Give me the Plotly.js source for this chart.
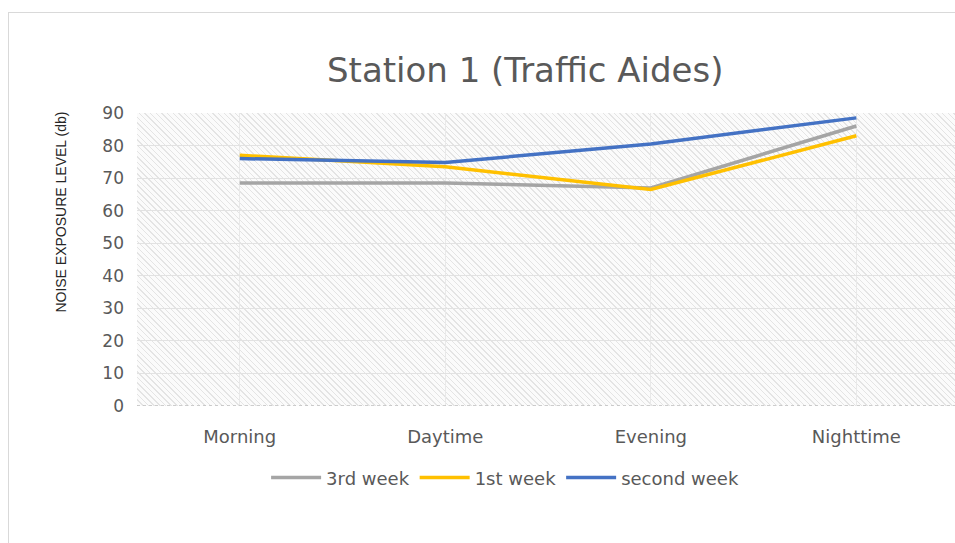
<!DOCTYPE html>
<html>
<head>
<meta charset="utf-8">
<script src="https://cdn.plot.ly/plotly-3.0.1.min.js"></script>
<style>
  html, body { margin: 0; padding: 0; background: #ffffff; }
  #wrap { position: relative; width: 955px; height: 543px; overflow: hidden; }
  #frame { position: absolute; left: 8px; top: 12px; width: 960px; height: 540px; border: 1px solid #d9d9d9; box-sizing: border-box; }
  #hatch { position: absolute; left: 137px; top: 113px; width: 818px; height: 293px;
    background: repeating-linear-gradient(45deg, #e4e4e4 0px, #e4e4e4 1px, #fbfbfb 1px, #fbfbfb 4px); }
  #chart { position: absolute; left: 0; top: 0; width: 955px; height: 543px; }
</style>
</head>
<body>
<div id="wrap">
  <div id="frame"></div>
  <div id="hatch"></div>
  <div id="chart"></div>
</div>
<script>
const categories = ["Morning", "Daytime", "Evening", "Nighttime"];
const week3 = [68.5, 68.5, 67, 86];
const week1 = [77, 73.5, 66.5, 83];
const week2 = [76, 74.8, 80.5, 88.5];
const seriesNames = ["3rd week", "1st week", "second week"];
const yTicks = [0, 10, 20, 30, 40, 50, 60, 70, 80, 90];

const colors = ["#a5a5a5", "#ffc000", "#4472c4"];
const values = [week3, week1, week2];

const traces = values.map((v, i) => ({
  type: "scatter",
  mode: "lines",
  x: categories,
  y: v,
  name: seriesNames[i],
  line: { color: colors[i], width: 3.5 }
}));

const FONT = "DejaVu Sans, sans-serif";

const layout = {
  width: 955,
  height: 543,
  margin: { l: 137, r: 0, t: 113, b: 137 },
  paper_bgcolor: "rgba(0,0,0,0)",
  plot_bgcolor: "rgba(0,0,0,0)",
  font: { family: FONT, color: "#595959" },
  title: {
    text: "Station 1 (Traffic Aides)",
    font: { family: FONT, size: 34, color: "#595959" },
    x: 0.55, xanchor: "center",
    y: 0.87, yanchor: "middle"
  },
  xaxis: {
    type: "category",
    range: [-0.5, 3.48],
    showgrid: true,
    gridcolor: "#e9e9e9",
    showline: false,
    zeroline: false,
    ticks: "",
    tickfont: { family: FONT, size: 18, color: "#595959" },
    ticklabelstandoff: 18
  },
  yaxis: {
    range: [0, 90],
    tickvals: yTicks,
    ticktext: yTicks.map(String),
    showgrid: true,
    gridcolor: "#e2e2e2",
    zeroline: false,
    showline: false,
    tickfont: { family: FONT, size: 17, color: "#595959" },
    ticklabelstandoff: 12
  },
  shapes: [{
    type: "line", xref: "paper", x0: 0, x1: 1, yref: "y", y0: 0, y1: 0,
    line: { color: "#bfbfbf", width: 1.5, dash: "dot" }
  }],
  annotations: [{
    text: "NOISE EXPOSURE LEVEL (db)",
    xref: "paper", yref: "paper",
    x: 0, xshift: -76, xanchor: "center",
    y: 0.66, yanchor: "middle",
    textangle: -90, showarrow: false,
    font: { family: "Liberation Sans Narrow, Arial Narrow, sans-serif", size: 14, color: "#262626" }
  }],
  legend: {
    orientation: "h",
    x: 0.45, xanchor: "center",
    y: -0.245, yanchor: "middle",
    font: { family: FONT, size: 18, color: "#595959" },
    bgcolor: "rgba(0,0,0,0)",
    itemwidth: 50
  },
  showlegend: true
};

Plotly.newPlot("chart", traces, layout, { displayModeBar: false, staticPlot: true });
</script>
</body>
</html>
